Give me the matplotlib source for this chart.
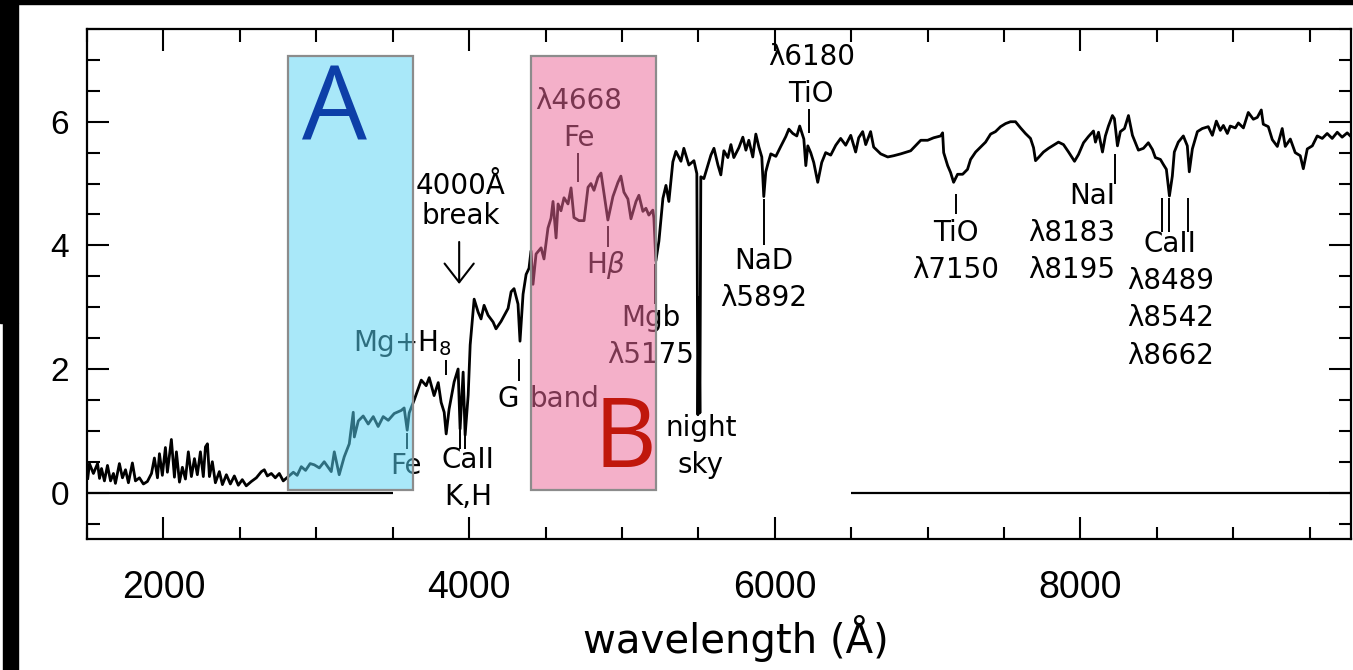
import matplotlib
matplotlib.use('Agg')
import matplotlib.pyplot as plt
from matplotlib.patches import Rectangle
from matplotlib.ticker import MultipleLocator

# galaxy spectrum: wavelength (A) and relative flux
wavelength = [
    1505, 1516, 1542, 1569, 1582, 1595, 1614, 1634, 1654, 1673, 1686, 1712, 1732, 1752,
    1771, 1797, 1817, 1843, 1869, 1895, 1922, 1941, 1961, 1974, 1993, 2013, 2026, 2052,
    2072, 2085, 2105, 2124, 2144, 2163, 2183, 2203, 2222, 2242, 2261, 2275, 2288, 2301,
    2320, 2340, 2366, 2386, 2412, 2438, 2464, 2490, 2516, 2542, 2575, 2608, 2641, 2660,
    2680, 2706, 2732, 2758, 2784,
    2817, 2850, 2875, 2902, 2930, 2960, 2987, 3020, 3052, 3075, 3098, 3118, 3150, 3183,
    3216, 3242, 3249, 3275, 3307, 3340, 3373, 3405, 3438, 3471, 3510, 3556, 3575, 3595,
    3608, 3641, 3687, 3719, 3739, 3771, 3798, 3817, 3837, 3850, 3869, 3902, 3928, 3941,
    3961, 3974, 3994, 4007, 4033, 4059, 4078, 4098, 4124, 4157, 4176, 4209, 4255, 4275,
    4294, 4320, 4333, 4353, 4373, 4392,
    4405, 4418, 4438, 4471, 4490, 4516, 4536, 4549, 4569, 4582, 4601, 4621, 4647, 4667,
    4686, 4719, 4752, 4778, 4797, 4817, 4843, 4863, 4882, 4908, 4941, 4974, 4993, 5013,
    5039, 5059, 5092, 5111, 5137, 5157, 5176, 5202, 5209, 5222, 5242, 5268, 5288, 5307,
    5333, 5353, 5386, 5405, 5438, 5471, 5490, 5497, 5503, 5510, 5516, 5536,
    5582, 5602, 5628, 5647, 5667, 5693, 5713, 5732, 5765, 5791, 5811, 5830, 5856, 5876,
    5896, 5915, 5928, 5941, 5955, 5974, 6007, 6039, 6072, 6092, 6118, 6144, 6163, 6190,
    6203, 6216, 6235, 6255, 6281, 6307, 6333, 6366, 6399, 6431, 6464, 6497, 6529, 6549,
    6575, 6595, 6627, 6647, 6693, 6739, 6778, 6824, 6889, 6955, 7000, 7039, 7085, 7098,
    7105, 7131, 7150, 7170, 7196, 7229, 7261, 7281, 7314, 7346, 7379, 7412, 7444, 7477,
    7510, 7542, 7575, 7608, 7640, 7673, 7693, 7706, 7725, 7758, 7791, 7824, 7856, 7889,
    7922, 7961, 7987, 8020, 8052, 8085, 8098, 8118, 8144, 8163, 8183, 8209, 8222, 8242,
    8261, 8288, 8314, 8340, 8379, 8412, 8444, 8471, 8490, 8523, 8542, 8562, 8582, 8601,
    8614, 8640, 8673, 8699, 8712, 8732, 8765, 8797, 8836, 8863, 8889, 8915, 8935, 8961,
    8980, 9013, 9033, 9066, 9098, 9131, 9157, 9183, 9196, 9229, 9255, 9288, 9320, 9340,
    9373, 9405, 9438, 9458, 9484, 9517, 9549, 9582, 9614, 9647, 9680, 9712, 9745, 9778,
]
flux = [
    0.23, 0.47, 0.31, 0.47, 0.23, 0.39, 0.19, 0.44, 0.19, 0.31, 0.15, 0.47, 0.24, 0.37,
    0.16, 0.48, 0.19, 0.24, 0.14, 0.18, 0.31, 0.56, 0.24, 0.63, 0.28, 0.73, 0.33, 0.86,
    0.25, 0.66, 0.17, 0.41, 0.22, 0.66, 0.26, 0.55, 0.29, 0.66, 0.26, 0.74, 0.79, 0.26,
    0.50, 0.16, 0.34, 0.13, 0.29, 0.14, 0.27, 0.12, 0.21, 0.11, 0.18, 0.24, 0.34, 0.37,
    0.27, 0.31, 0.24, 0.31, 0.19,
    0.26, 0.33, 0.28, 0.42, 0.36, 0.47, 0.45, 0.40, 0.50, 0.42, 0.34, 0.66, 0.29, 0.58,
    0.79, 1.30, 0.90, 1.16, 1.24, 1.11, 1.23, 1.07, 1.23, 1.17, 1.28, 1.33, 1.37, 1.01,
    1.29, 1.50, 1.82, 1.73, 1.86, 1.57, 1.78, 1.46, 1.30, 0.95, 1.35, 1.79, 2.00, 1.03,
    1.95, 0.93, 1.58, 2.39, 3.13, 2.92, 2.81, 3.03, 2.87, 2.76, 2.65, 2.77, 2.98, 3.25,
    3.30, 3.05, 2.45, 3.21, 3.53, 3.63,
    3.91, 3.37, 3.86, 3.96, 3.78, 4.28, 4.44, 4.71, 4.12, 4.67, 4.56, 4.77, 4.67, 4.93,
    4.45, 4.40, 4.40, 4.94, 5.00, 4.89, 5.10, 5.17, 4.85, 4.41, 4.79, 5.02, 5.12, 4.86,
    4.75, 4.43, 4.71, 4.81, 4.55, 4.60, 4.49, 4.57, 4.44, 3.75, 4.07, 4.76, 4.97, 4.71,
    5.35, 5.52, 5.36, 5.57, 5.30, 5.37, 5.16, 1.26, 3.15, 1.29, 5.11, 5.08,
    5.46, 5.57, 5.30, 5.14, 5.53, 5.42, 5.63, 5.42, 5.58, 5.75, 5.54, 5.70, 5.43, 5.80,
    5.59, 5.43, 4.79, 5.19, 5.32, 5.48, 5.44, 5.60, 5.76, 5.88, 5.81, 5.77, 5.93, 5.72,
    5.29, 5.61, 5.50, 5.34, 5.02, 5.34, 5.50, 5.46, 5.62, 5.73, 5.62, 5.78, 5.51, 5.74,
    5.84, 5.63, 5.84, 5.59, 5.48, 5.43, 5.45, 5.48, 5.53, 5.70, 5.70, 5.74, 5.77, 5.82,
    5.50, 5.29, 5.18, 5.02, 5.15, 5.15, 5.23, 5.39, 5.51, 5.59, 5.67, 5.80, 5.84, 5.92,
    5.97, 6.00, 6.00, 5.90, 5.81, 5.73, 5.58, 5.37, 5.42, 5.51, 5.57, 5.62, 5.67, 5.63,
    5.51, 5.36, 5.47, 5.66, 5.76, 5.85, 5.67, 5.83, 5.51, 5.77, 5.93, 6.10, 6.05, 5.61,
    5.84, 5.89, 6.10, 5.78, 5.54, 5.57, 5.66, 5.55, 5.42, 5.39, 5.31, 5.23, 4.80, 5.12,
    5.51, 5.67, 5.77, 5.61, 5.19, 5.56, 5.84, 5.89, 5.92, 5.78, 6.01, 5.86, 5.94, 5.81,
    5.93, 5.90, 5.98, 5.90, 6.15, 6.04, 6.07, 6.19, 5.96, 5.92, 5.71, 5.60, 5.89, 5.60,
    5.72, 5.50, 5.45, 5.24, 5.56, 5.61, 5.77, 5.73, 5.81, 5.73, 5.83, 5.75, 5.82, 5.74,
]

# pieces of the zero-flux reference line
zero_segments = [(1500, 3500), (6500, 9770)]

# shaded windows A and B
band_a = (2817, 3634)
band_b = (4405, 5222)

# line identification marks: (wavelength, bottom, top)
line_marks = [
    (3850, 1.91, 2.14),   # Mg+H8
    (3595, 0.71, 0.96),   # Fe
    (3941, 0.71, 1.02),   # CaII K
    (3974, 0.71, 1.02),   # CaII H
    (4327, 1.80, 2.16),   # G band
    (4712, 5.02, 5.50),   # Fe 4668
    (4908, 3.98, 4.31),   # H beta
    (5216, 3.05, 3.70),   # Mgb
    (5928, 4.00, 4.75),   # NaD
    (6222, 5.81, 6.20),   # TiO 6180
    (7183, 4.51, 4.83),   # TiO 7150
    (8229, 4.99, 5.48),   # NaI
    (8536, 4.22, 4.77),   # CaII triplet
    (8582, 4.22, 4.77),
    (8706, 4.22, 4.77),
]

# line labels: (wavelength, flux, text, horizontal alignment)
line_labels = [
    (3562, 2.41, 'Mg+H$_8$', 'center'),
    (3588, 0.43, 'Fe', 'center'),
    (3994, 0.23, 'CaII\nK,H', 'center'),
    (4255, 1.51, 'G', 'center'),
    (4627, 1.51, 'band', 'center'),
    (4719, 6.03, 'λ4668\nFe', 'center'),
    (4895, 3.68, 'H$\\beta$', 'center'),
    (5190, 2.53, 'Mgb\nλ5175', 'center'),
    (5516, 0.75, 'night\nsky', 'center'),
    (5928, 3.45, 'NaD\nλ5892', 'center'),
    (6238, 6.75, 'λ6180\nTiO', 'center'),
    (7183, 3.90, 'TiO\nλ7150', 'center'),
    (8229, 4.20, 'NaI\nλ8183\nλ8195', 'right'),
    (8588, 3.12, 'CaII\nλ8489\nλ8542\nλ8662', 'center'),
]

plt.rcParams['font.family'] = ['Liberation Sans', 'DejaVu Sans']

fig = plt.figure(figsize=(13.53, 6.70), dpi=100)
ax = fig.add_axes([87 / 1353, 131 / 670, 1264 / 1353, 510 / 670])

ax.plot(wavelength, flux, color='black', lw=2.0, zorder=3)
for x0, x1 in zero_segments:
    ax.hlines(0, x0, x1, color='black', lw=1.6, zorder=3)

for lam, y0, y1 in line_marks:
    ax.vlines(lam, y0, y1, color='black', lw=1.4, zorder=3)

for lam, y, txt, ha in line_labels:
    ax.text(lam, y, txt, ha=ha, va='center', multialignment=ha,
            fontsize=20, linespacing=1.42, family='DejaVu Sans', zorder=3)

# 4000 A break
ax.text(3945, 4.72, '4000Å\nbreak', ha='center', va='center', fontsize=20,
        linespacing=1.1, family='DejaVu Sans', zorder=3)
ax.annotate('', xy=(3935, 3.33), xytext=(3935, 4.10),
            arrowprops=dict(arrowstyle='->, head_length=0.45, head_width=0.35',
                            lw=1.5, color='black', mutation_scale=30))

# translucent windows over the spectrum
for (x0, x1), col in [(band_a, '#5ad4f5'), (band_b, '#ea6899')]:
    ax.add_patch(Rectangle((x0, 0.04), x1 - x0, 7.03, facecolor=col,
                           alpha=0.52, edgecolor='none', zorder=5))
    ax.add_patch(Rectangle((x0, 0.04), x1 - x0, 7.03, fill=False,
                           edgecolor='#8c8c8c', lw=1.6, zorder=6))

ax.text(3118, 6.14, 'A', ha='center', va='center', fontsize=74,
        family='Open Sans', color='#0d3fa8', zorder=7)
ax.text(5020, 0.82, 'B', ha='center', va='center', fontsize=70,
        family='Open Sans', color='#c0170c', zorder=7)

ax.set_xlim(1500, 9770)
ax.set_ylim(-0.75, 7.5)
ax.set_xticks([2000, 4000, 6000, 8000])
ax.set_yticks([0, 2, 4, 6])
ax.xaxis.set_minor_locator(MultipleLocator(500))
ax.yaxis.set_minor_locator(MultipleLocator(0.5))
ax.tick_params(which='both', direction='in', top=True, right=True, width=1.5)
ax.tick_params(which='major', length=16)
ax.tick_params(which='minor', length=9)
ax.tick_params(axis='x', labelsize=27, pad=22)
ax.tick_params(axis='y', labelsize=24, pad=13)
for sp in ax.spines.values():
    sp.set_linewidth(1.6)

ax.set_xlabel('wavelength (Å)', fontsize=29, family='DejaVu Sans')
ax.xaxis.set_label_coords(0.513, -0.15)

# dark border strips along the top and left edges
fig.add_artist(Rectangle((0, 1 - 4 / 670), 1, 4 / 670, transform=fig.transFigure,
                         color='black', zorder=10))
fig.add_artist(Rectangle((0, 347 / 670), 18 / 1353, 323 / 670, transform=fig.transFigure,
                         color='black', zorder=10))
fig.add_artist(Rectangle((3 / 1353, 0), 15 / 1353, 347 / 670, transform=fig.transFigure,
                         color='black', zorder=10))

fig.savefig('out.png', dpi=100)
